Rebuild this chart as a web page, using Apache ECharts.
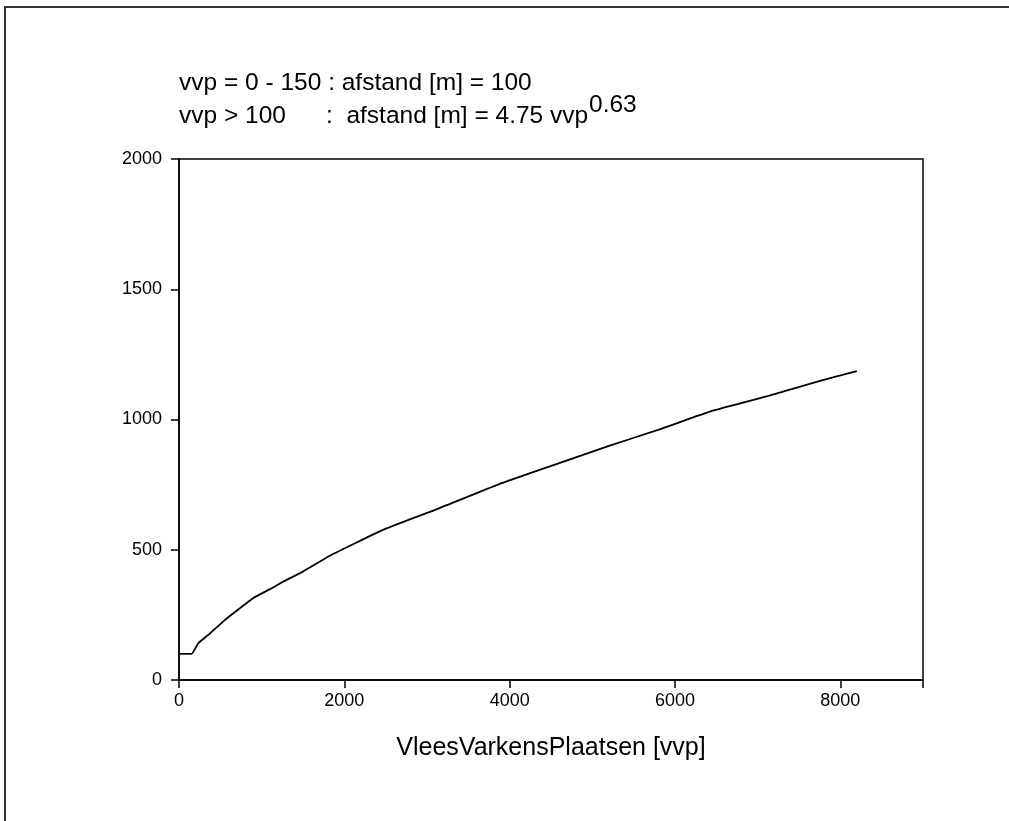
<!DOCTYPE html>
<html>
<head>
<meta charset="utf-8">
<script src="https://cdn.jsdelivr.net/npm/echarts@6/dist/echarts.min.js"></script>
<style>
  html, body { margin: 0; padding: 0; background: #fff; }
  #chart { width: 1009px; height: 821px; }
</style>
</head>
<body>
<div id="chart"></div>
<script>
// values: vvp -> afstand [m]
var vvp = [0, 150, 233, 353, 554, 735, 895, 1096, 1257, 1498, 1819, 2482, 3145, 3867, 4530, 5193, 5795, 6458, 7120, 7723, 8200];
var afstand = [100, 100, 141, 173, 230, 275, 314, 348, 377, 416, 476, 578, 659, 751, 825, 898, 960, 1034, 1090, 1145, 1186];

var xTicks = [0, 2000, 4000, 6000, 8000];
var yTicks = [0, 500, 1000, 1500, 2000];

var font = 'Liberation Sans, Arial, sans-serif';

var points = [];
for (var i = 0; i < vvp.length; ++i) {
  points.push([vvp[i], afstand[i]]);
}

var chart = echarts.init(document.getElementById('chart'));

chart.setOption({
  backgroundColor: '#fff',
  animation: false,
  grid: {
    left: 179,
    top: 159,
    width: 744,
    height: 521,
    show: true,
    borderColor: '#000',
    borderWidth: 1.5,
    containLabel: false
  },
  xAxis: {
    type: 'value',
    min: 0,
    max: 9000,
    interval: 2000,
    name: 'VleesVarkensPlaatsen [vvp]',
    nameLocation: 'middle',
    nameGap: 56,
    nameTextStyle: { color: '#000', fontSize: 25, fontFamily: font },
    axisLine: { show: true, lineStyle: { color: '#000', width: 1.5 } },
    axisTick: { show: true, length: 8, lineStyle: { color: '#000', width: 1.5 } },
    axisLabel: {
      color: '#000', fontSize: 18, fontFamily: font, margin: 12,
      formatter: function(v) { return xTicks.indexOf(v) >= 0 ? String(v) : ''; }
    },
    splitLine: { show: false }
  },
  yAxis: {
    type: 'value',
    min: 0,
    max: 2000,
    interval: 500,
    axisLine: { show: true, lineStyle: { color: '#000', width: 1.5 } },
    axisTick: { show: true, length: 8, lineStyle: { color: '#000', width: 1.5 } },
    axisLabel: {
      color: '#000', fontSize: 18, fontFamily: font, margin: 17,
      formatter: function(v) { return yTicks.indexOf(v) >= 0 ? String(v) : ''; }
    },
    splitLine: { show: false }
  },
  series: [{
    type: 'line',
    data: points,
    showSymbol: false,
    smooth: 0.15,
    lineStyle: { color: '#000', width: 1.8 }
  }],
  graphic: [
    {
      type: 'rect',
      shape: { x: 5, y: 7, width: 1100, height: 900 },
      style: { fill: 'none', stroke: '#333', lineWidth: 2 }
    },
    {
      type: 'text', left: 179, top: 71,
      style: { text: 'vvp = 0 - 150 : afstand [m] = 100', fill: '#000', fontSize: 24.5, fontFamily: font }
    },
    {
      type: 'text', left: 179, top: 104,
      style: { text: 'vvp > 100', fill: '#000', fontSize: 24.5, fontFamily: font }
    },
    {
      type: 'text', left: 326, top: 104,
      style: { text: ':  afstand [m] = 4.75 vvp', fill: '#000', fontSize: 24.5, fontFamily: font }
    },
    {
      type: 'text', left: 589, top: 93,
      style: { text: '0.63', fill: '#000', fontSize: 24.5, fontFamily: font }
    }
  ]
});
</script>
</body>
</html>
